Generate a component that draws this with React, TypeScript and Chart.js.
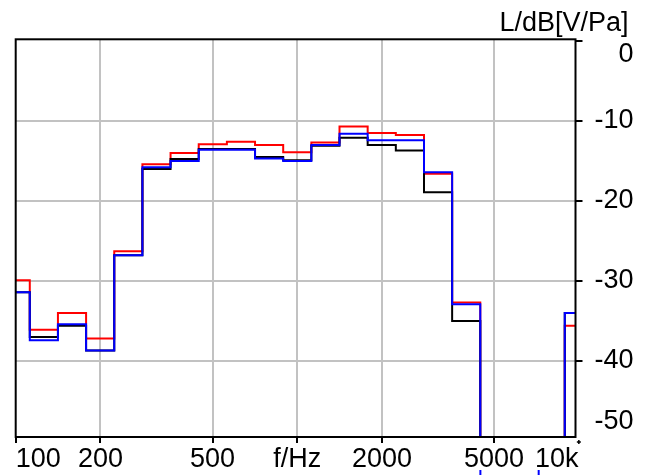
import React, { useEffect, useRef } from "react";
import { Chart, registerables } from "chart.js";

Chart.register(...registerables);

// 1/3-octave band centre frequencies (Hz)
const bandCenters = [
  100, 125, 160, 200, 250, 315, 400, 500, 630, 800, 1000, 1250, 1600, 2000,
  2500, 3150, 4000, 5000, 6300, 8000, 10000,
];

// level below the visible range (no signal in band)
const OFF = -100;

// band levels in dB[V/Pa]
const redLevels = [
  -29.9, -36.1, -34.0, -37.2, -26.3, -15.4, -14.0, -12.9, -12.6, -13.0, -13.9,
  -12.7, -10.7, -11.5, -11.75, -16.6, -32.7, OFF, OFF, OFF, -35.6,
];
const blackLevels = [
  -31.4, -37.0, -35.6, -38.7, -26.8, -16.0, -14.75, -13.5, -13.5, -14.5, -14.9,
  -13.1, -12.1, -13.0, -13.7, -18.9, -35.0, OFF, OFF, OFF, -34.0,
];
const blueLevels = [
  -31.4, -37.4, -35.4, -38.7, -26.8, -15.8, -15.0, -13.6, -13.6, -14.7, -15.0,
  -13.0, -11.6, -12.4, -12.4, -16.4, -32.9, OFF, OFF, OFF, -34.0,
];

const X_MIN = 100;
const X_MAX = 9730;
const Y_MIN = -49.5;
const Y_MAX = 0.2;
const xTickValues = [100, 200, 500, 1000, 2000, 5000, 10000];
const xTickLabels = ["100", "200", "500", "f/Hz", "2000", "5000", "10k"];
const yTickValues = [0, -10, -20, -30, -40, -50];
const yTickLabels = ["0", "-10", "-20", "-30", "-40", "-50"];
const yTitle = "L/dB[V/Pa]";
const markerFreqs = [4470, 7200];

const FONT = '27px "Liberation Sans", Arial, sans-serif';

function bandEdge(center: number, side: number) {
  const n = Math.round(10 * Math.log10(center));
  return Math.pow(10, (n + side * 0.5) / 10);
}

function stepPoints(levels: number[]) {
  const pts = bandCenters.map((c, i) => ({ x: bandEdge(c, -1), y: levels[i] }));
  const last = bandCenters.length - 1;
  pts.push({ x: bandEdge(bandCenters[last], 1), y: levels[last] });
  return pts;
}

const decorPlugin = {
  id: "decor",
  afterDatasetsDraw(chart: any) {
    const { ctx, chartArea: a } = chart;
    ctx.save();
    ctx.strokeStyle = "#000";
    ctx.lineWidth = 2;
    ctx.strokeRect(a.left, a.top, a.right - a.left, a.bottom - a.top);
    ctx.restore();
  },
  afterDraw(chart: any) {
    const { ctx, chartArea: a, scales } = chart;
    const xs = scales.x;
    const ys = scales.y;
    ctx.save();
    ctx.font = FONT;
    ctx.fillStyle = "#000";

    // x labels
    ctx.textBaseline = "alphabetic";
    const lastX = xTickValues.length - 1;
    xTickValues.forEach((v, i) => {
      const px = xs.getPixelForValue(v);
      const label = xTickLabels[i];
      if (i === 0) {
        ctx.textAlign = "left";
        ctx.fillText(label, a.left, a.bottom + 30);
      } else if (i === lastX) {
        ctx.textAlign = "right";
        ctx.fillText(label, a.right + 3, a.bottom + 30);
      } else {
        ctx.textAlign = "center";
        ctx.fillText(label, px, a.bottom + 30);
      }
    });

    // small "+" tick for the last x value (just outside the frame)
    const pLast = xs.getPixelForValue(xTickValues[lastX]);
    ctx.strokeStyle = "#000";
    ctx.lineWidth = 1.5;
    ctx.beginPath();
    ctx.moveTo(pLast - 2, a.bottom + 5);
    ctx.lineTo(pLast + 2, a.bottom + 5);
    ctx.moveTo(pLast, a.bottom + 3);
    ctx.lineTo(pLast, a.bottom + 7);
    ctx.stroke();

    // y labels (right side), kept inside the plot height
    ctx.textAlign = "right";
    ctx.textBaseline = "middle";
    yTickValues.forEach((v, i) => {
      const py = ys.getPixelForValue(v);
      const cy = Math.min(Math.max(py, a.top + 15), a.bottom - 15);
      ctx.fillText(yTickLabels[i], a.right + 58, cy);
    });

    // axis title
    ctx.textBaseline = "alphabetic";
    ctx.textAlign = "right";
    ctx.fillText(yTitle, a.right + 53, a.top - 8);

    // small blue cursor marks at the bottom edge
    ctx.strokeStyle = "#0000ff";
    ctx.lineWidth = 2;
    markerFreqs.forEach((f) => {
      const px = xs.getPixelForValue(f);
      ctx.beginPath();
      ctx.moveTo(px, chart.height - 5);
      ctx.lineTo(px, chart.height);
      ctx.stroke();
    });
    ctx.restore();
  },
};

export default function App() {
  const canvasRef = useRef<HTMLCanvasElement | null>(null);

  useEffect(() => {
    const canvas = canvasRef.current;
    if (!canvas) return;
    const gridColor = (edgeValues: number[]) => (c: any) =>
      c.tick && edgeValues.includes(c.tick.value) ? "rgba(0,0,0,0)" : "#c2c2c2";

    const chart = new Chart(canvas, {
      type: "line",
      data: {
        datasets: [
          {
            label: "red",
            data: stepPoints(redLevels),
            borderColor: "#ff0000",
            order: 3,
          },
          {
            label: "black",
            data: stepPoints(blackLevels),
            borderColor: "#000000",
            order: 2,
          },
          {
            label: "blue",
            data: stepPoints(blueLevels),
            borderColor: "#0000ff",
            order: 1,
          },
        ] as any,
      },
      options: {
        animation: false,
        responsive: false,
        devicePixelRatio: 1,
        layout: { padding: { left: 15.7, top: 39.3, right: 0, bottom: 0 } },
        plugins: {
          legend: { display: false },
          tooltip: { enabled: false },
        },
        elements: {
          point: { radius: 0 },
          line: { borderWidth: 2, stepped: "before", tension: 0, fill: false },
        },
        scales: {
          x: {
            type: "logarithmic",
            position: "bottom",
            min: X_MIN,
            max: X_MAX,
            afterBuildTicks: (s: any) => {
              s.ticks = xTickValues
                .filter((v) => v >= X_MIN && v <= X_MAX)
                .map((v) => ({ value: v }));
            },
            afterFit: (s: any) => {
              s.height = 38;
            },
            ticks: { display: false },
            border: { display: false },
            grid: {
              color: gridColor([X_MIN]),
              lineWidth: 2,
              drawTicks: true,
              tickLength: 6,
              tickColor: "#000",
              tickWidth: 2,
            },
          },
          y: {
            type: "linear",
            position: "right",
            min: Y_MIN,
            max: Y_MAX,
            afterBuildTicks: (s: any) => {
              s.ticks = yTickValues
                .filter((v) => v >= Y_MIN && v <= Y_MAX)
                .map((v) => ({ value: v }));
            },
            afterFit: (s: any) => {
              s.width = 75.5;
            },
            ticks: { display: false },
            border: { display: false },
            grid: {
              color: gridColor([0]),
              lineWidth: 2,
              drawTicks: true,
              tickLength: 7,
              tickColor: "#000",
              tickWidth: 2,
            },
          },
        },
      } as any,
      plugins: [decorPlugin],
    });
    return () => chart.destroy();
  }, []);

  return (
    <div
      style={{
        position: "fixed",
        left: 0,
        top: 0,
        width: 651,
        height: 475,
        background: "#fff",
      }}
    >
      <canvas ref={canvasRef} width={651} height={475} />
    </div>
  );
}
